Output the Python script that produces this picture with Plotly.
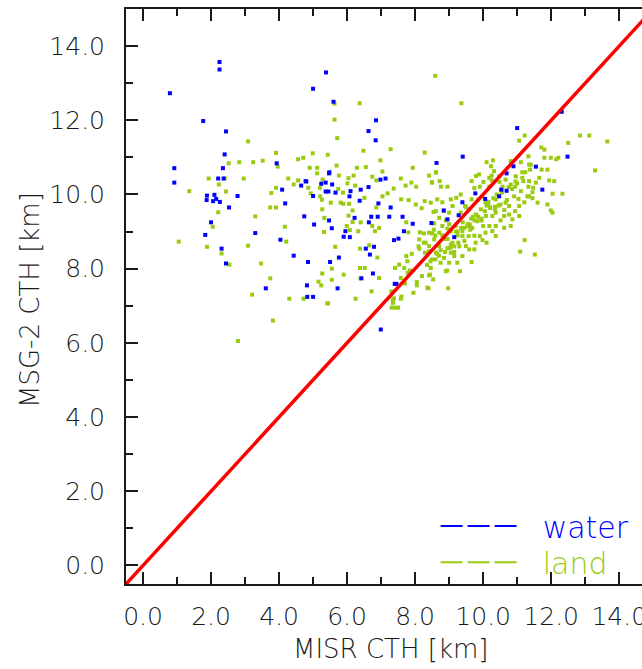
import plotly.graph_objects as go

# ---------------- data (km) ----------------
water_x = [2.25, 2.25, 0.79, 5.38, 5.00, 5.60, 6.85, 6.63, 6.84, 1.77, 2.44, 2.40, 0.92, 2.35, 0.92,
           2.21, 2.37, 3.93, 4.09, 1.88, 2.10, 1.87, 2.06, 2.15, 2.26, 2.78, 2.53, 4.18, 2.00, 1.83,
           3.30, 4.04, 2.31, 4.43, 2.44, 3.61, 5.24, 4.78, 5.37, 5.45, 5.56, 6.10, 6.40, 6.63, 6.37,
           6.07, 5.47, 4.74, 5.03, 5.47, 5.55, 5.95, 6.08, 6.55, 6.79, 6.67, 5.76, 5.50, 4.85, 6.76,
           6.42, 4.82, 5.72, 8.63, 5.48, 5.37, 4.80, 4.65, 5.66, 6.98, 7.13, 5.00, 7.28, 6.92, 5.90,
           6.22, 6.71, 6.90, 6.64, 7.24, 7.67, 7.51, 7.38, 7.63, 7.93, 8.48, 7.40, 7.45, 4.83, 5.00,
           6.99, 12.31, 11.00, 9.40, 12.48, 11.55, 10.69, 10.89, 11.74, 10.53, 10.69, 10.06, 10.47,
           9.77, 9.39, 8.84, 9.28, 8.95, 9.15]
water_y = [13.57, 13.37, 12.73, 13.29, 12.85, 12.50, 12.00, 11.71, 11.46, 11.98, 11.70, 11.08, 10.71,
           10.71, 10.32, 10.43, 10.43, 10.84, 10.13, 9.97, 9.99, 9.85, 9.82, 9.88, 9.80, 9.96, 9.65,
           9.76, 9.25, 8.91, 8.96, 8.78, 8.54, 8.35, 8.14, 7.47, 10.29, 10.36, 10.08, 10.08, 10.27,
           10.09, 10.13, 10.20, 9.83, 9.95, 10.57, 9.41, 9.19, 9.30, 9.09, 9.01, 8.85, 8.54, 8.59,
           8.38, 8.30, 8.18, 8.18, 7.87, 7.74, 7.55, 7.47, 10.85, 10.60, 10.32, 10.35, 10.24, 10.05,
           10.40, 10.43, 9.96, 9.65, 9.76, 8.86, 9.37, 9.40, 9.40, 9.25, 9.40, 9.01, 8.81, 8.77, 9.40,
           9.21, 9.23, 7.59, 7.59, 7.24, 7.24, 6.36, 12.23, 11.79, 11.02, 11.02, 10.75, 10.57, 10.76,
           10.13, 10.13, 10.10, 9.88, 9.95, 10.03, 9.79, 9.57, 9.44, 9.33, 8.85]

land_x = [3.09, 3.91, 2.52, 2.83, 3.24, 3.52, 3.96, 1.93, 2.40, 2.96, 4.27, 4.43, 2.23, 1.36, 2.44,
          3.91, 3.77, 3.74, 3.91, 2.21, 3.30, 2.05, 4.17, 1.05, 1.88, 3.09, 4.21, 2.31, 2.54, 3.47,
          3.74, 3.21, 4.30, 3.82,
          6.37, 5.63, 5.71, 6.48, 4.99, 5.43, 4.71, 4.56,
          5.63, 7.28, 8.28, 6.98, 4.90, 5.12, 5.69, 6.29, 6.55, 7.04, 7.93, 8.41, 8.62, 4.56, 5.12,
          5.28, 5.76, 6.04, 6.19, 6.74, 6.86, 7.58, 7.89, 8.50, 4.86, 4.93, 5.20, 5.21, 5.74, 5.88,
          6.01, 6.24, 5.89, 5.81, 6.06, 5.52, 5.26, 5.27, 6.16, 6.51, 7.04, 7.19, 6.86, 7.59, 7.37,
          7.72, 8.03, 7.81, 8.02, 8.28, 8.46, 8.19, 8.54, 5.33, 6.04, 6.40, 6.74, 6.94, 6.16, 5.99,
          6.33, 6.08, 6.82, 5.32, 5.65, 6.38, 6.65, 7.80, 7.74, 8.14, 8.26, 8.51, 8.12, 8.31, 8.12,
          8.41, 8.29, 8.59, 7.74, 7.77, 7.53, 7.41, 7.68, 7.78, 7.58, 6.89, 6.38, 6.52, 6.40, 6.94,
          5.90, 5.55, 5.55, 5.27, 5.16, 5.24, 6.72, 7.30, 8.05, 8.36, 8.44, 8.53, 6.25, 5.44, 4.72,
          7.34, 7.41, 7.50, 7.35,
          9.36, 11.22, 11.06, 12.50, 11.71, 11.80, 11.33, 11.80, 11.99, 12.21, 10.10, 10.29, 10.23,
          10.81, 11.11, 11.35, 11.38, 11.72, 11.89, 11.24, 10.96, 11.18, 11.35, 11.55, 11.47, 11.94,
          12.09, 9.88, 9.79, 10.25, 10.25, 9.66, 10.01, 10.48, 10.57, 10.94, 11.11, 11.33, 11.45,
          12.04, 12.33, 9.74, 9.90, 10.18, 8.49, 8.72, 8.76, 8.95, 8.61, 10.91, 11.04, 11.21, 11.35,
          11.60, 11.89, 11.99, 12.04, 10.66, 10.76, 10.62, 10.51, 10.35, 10.21, 10.27, 10.08, 9.93,
          9.78, 9.65, 9.83, 10.51, 10.86, 10.94, 9.54, 9.68, 9.39, 9.57, 9.74, 9.90, 9.98, 10.10,
          10.62, 9.19, 9.05, 9.39, 9.27, 9.49, 9.59, 9.03, 8.88, 9.05, 8.71, 8.56, 8.41, 8.85, 9.00,
          9.66, 9.32, 8.90, 8.94, 8.41, 8.97, 11.22, 11.09, 11.52, 8.65, 8.80, 9.05, 9.21, 9.34, 9.10,
          9.00, 8.61, 8.71, 8.56, 8.80, 8.95, 10.27, 10.37, 10.81, 11.06,
          12.85, 13.12, 13.65, 13.29, 8.39, 7.31, 7.38, 7.58, 5.42, 2.79, 8.59,
          9.47, 9.59, 9.34, 9.66, 9.86, 9.98, 10.07, 10.37, 8.41, 8.71, 8.61, 8.75, 8.50, 8.46, 9.15,
          9.39, 9.24, 9.78, 9.74, 10.18, 10.37, 10.07, 10.62, 10.76, 10.37, 11.06, 10.18, 10.32,
          10.47, 10.66, 10.81,
          # denser core of the land cloud around the 1:1 line
          9.95, 10.05, 9.55, 9.62, 10.15, 10.30, 9.45, 9.70, 9.20, 9.30, 8.85, 8.95, 9.10, 8.70,
          8.80, 8.60, 8.90, 9.00, 9.15, 9.25, 9.45, 9.60, 9.85, 10.00, 10.20, 10.45, 10.55, 10.70,
          10.85, 11.00, 11.15, 11.30, 11.45, 10.40, 10.10, 9.80, 9.50, 9.35, 9.15, 8.95, 8.75, 8.55,
          8.35, 8.20, 8.05, 7.95, 7.85, 7.70, 7.60, 7.90, 8.10, 8.25, 8.45, 8.65, 8.85, 9.05, 9.25,
          9.40, 9.60, 9.75, 9.95, 10.15, 10.35, 10.55, 10.75, 10.95, 11.15, 11.40, 11.65, 12.15]
land_y = [11.43, 11.12, 10.84, 10.87, 10.87, 10.91, 10.75, 10.43, 10.43, 10.43, 10.43, 10.27, 10.27,
          10.09, 10.08, 10.18, 10.04, 9.65, 9.65, 9.52, 9.41, 9.13, 9.13, 8.73, 8.59, 8.62, 8.73,
          8.41, 8.11, 8.14, 7.74, 7.30, 7.19, 6.60,
          12.46, 12.02, 11.52, 11.18, 11.11, 11.07, 10.99, 10.95,
          12.45, 11.22, 11.13, 10.92, 10.72, 10.72, 10.78, 10.72, 10.74, 10.62, 10.72, 10.51, 10.59,
          10.38, 10.57, 10.40, 10.51, 10.44, 10.51, 10.48, 10.38, 10.43, 10.32, 10.32, 10.18, 10.03,
          10.18, 9.95, 10.15, 10.05, 10.30, 10.24, 9.75, 9.78, 9.75, 9.78, 9.86, 9.60, 9.57, 9.91,
          9.95, 10.03, 9.65, 9.87, 10.16, 10.24, 10.21, 9.85, 9.73, 9.82, 9.78, 9.63, 9.53, 9.37,
          9.43, 9.25, 9.15, 9.10, 9.26, 9.15, 9.01, 9.04, 9.01, 8.99, 8.59, 8.54, 8.63, 8.98, 9.25,
          8.98, 8.95, 8.95, 8.79, 8.70, 8.54, 8.47, 8.43, 8.89, 8.34, 8.20, 8.11, 8.02, 8.02, 7.89,
          7.75, 8.30, 8.02, 8.02, 7.74, 7.75, 7.84, 8.00, 7.70, 7.87, 7.65, 7.55, 7.39, 7.39, 7.64,
          7.49, 7.84, 7.71, 7.19, 7.07, 7.19, 7.17, 6.95, 6.95, 7.08,
          12.46, 11.59, 11.45, 11.39, 11.27, 11.21, 11.03, 10.99, 10.99, 10.99, 10.87, 10.92, 10.76,
          10.90, 10.87, 10.81, 10.67, 10.67, 10.67, 10.60, 10.49, 10.36, 10.36, 10.32, 10.18, 10.38,
          10.36, 10.54, 10.50, 10.51, 10.38, 10.36, 10.34, 10.34, 10.21, 10.21, 10.09, 10.21, 10.06,
          10.02, 10.02, 10.17, 10.21, 10.21, 10.33, 10.36, 10.21, 10.21, 10.60, 9.95, 9.88, 9.79,
          9.95, 9.78, 9.73, 9.57, 9.51, 9.78, 9.69, 9.58, 9.73, 9.67, 9.64, 9.42, 9.42, 9.60, 9.46,
          9.35, 9.28, 9.30, 9.33, 9.55, 9.15, 9.10, 9.01, 8.88, 8.89, 8.88, 8.77, 8.70, 9.10, 9.15,
          9.01, 8.88, 8.70, 8.61, 8.52, 8.56, 8.45, 8.43, 8.61, 8.79, 8.61, 8.29, 8.16, 8.18, 7.93,
          7.93, 7.95, 7.82, 7.47, 8.77, 8.46, 8.38, 9.87, 9.79, 9.87, 9.91, 10.00, 9.69, 9.51, 9.55,
          9.37, 9.22, 9.15, 9.08, 9.01, 8.88, 9.15, 9.42,
          11.59, 11.59, 11.43, 10.65, 7.47, 6.95, 7.20, 7.19, 7.06, 6.05, 13.20,
          9.69, 9.60, 9.51, 9.87, 9.87, 9.95, 9.78, 9.87, 8.97, 8.97, 8.43, 8.16, 8.25, 8.02, 8.34,
          8.34, 8.16, 8.70, 8.52, 9.15, 9.15, 8.97, 9.42, 9.46, 9.51, 9.69, 10.45, 10.63, 10.49,
          10.40, 10.27,
          9.30, 9.55, 9.20, 9.05, 9.75, 9.90, 9.10, 9.40, 9.00, 8.60, 8.80, 8.55, 8.70, 8.35,
          8.90, 8.25, 9.30, 9.20, 8.60, 8.90, 8.75, 9.20, 9.40, 9.15, 9.65, 9.70, 10.05, 9.85,
          10.15, 10.30, 10.45, 9.95, 9.90, 10.00, 9.70, 9.45, 9.65, 9.10, 8.45, 8.80, 8.50, 9.05,
          8.10, 7.80, 7.55, 7.35, 7.95, 7.60, 7.25, 8.40, 8.60, 8.70, 8.20, 8.40, 9.55, 8.65, 9.00,
          9.25, 9.15, 9.30, 9.35, 9.80, 9.60, 10.10, 10.20, 10.35, 10.60, 10.80, 10.45, 10.95]

one_to_one = [-0.5, 15.0]

x_range = [-0.5, 14.67]
y_range = [-0.5, 15.0]

x_title = "MISR CTH [km]"
y_title = "MSG-2 CTH [km]"

BLUE = "#0000ff"
GREEN = "#99cc11"
RED = "#ff0000"
INK = "#1a1a1a"
FONT = "DejaVu Sans"
W = 200

fig = go.Figure()
fig.add_trace(go.Scatter(x=land_x, y=land_y, mode="markers", showlegend=False,
                         marker=dict(symbol="square", size=4, color=GREEN, line=dict(width=0))))
fig.add_trace(go.Scatter(x=water_x, y=water_y, mode="markers", showlegend=False,
                         marker=dict(symbol="square", size=4, color=BLUE, line=dict(width=0))))
fig.add_trace(go.Scatter(x=one_to_one, y=one_to_one, mode="lines", showlegend=False,
                         line=dict(color=RED, width=3.5)))
# legend entries (dashed lines), one legend box each
fig.add_trace(go.Scatter(x=[None], y=[None], mode="lines", legend="legend",
                         name="\u00a0\u00a0<span style='color:%s'>water</span>" % BLUE,
                         line=dict(color=BLUE, width=2, dash="22px,5px")))
fig.add_trace(go.Scatter(x=[None], y=[None], mode="lines", legend="legend2",
                         name="\u00a0\u00a0<span style='color:%s'>land</span>" % GREEN,
                         line=dict(color=GREEN, width=2, dash="22px,5px")))

axis_common = dict(
    showgrid=False, zeroline=False, showline=True, linecolor=INK, linewidth=2,
    ticks="inside", ticklen=12, tickwidth=2, tickcolor=INK, dtick=2, tick0=0,
    tickformat=".1f", tickfont=dict(family=FONT, size=25, color=INK, weight=W),
    ticklabeloverflow="allow", automargin=False,
    minor=dict(ticks="inside", ticklen=7, tickwidth=2, tickcolor=INK, dtick=1, tick0=0, showgrid=False),
)

leg_common = dict(x=0.6, xanchor="left", yanchor="top", bgcolor="rgba(0,0,0,0)",
                  font=dict(family=FONT, size=30, weight=W), itemwidth=78)

fig.update_layout(
    width=642, height=669,
    margin=dict(l=126, r=0, t=9, b=85, autoexpand=False),
    paper_bgcolor="white", plot_bgcolor="white",
    font=dict(family=FONT, color=INK, weight=W),
    xaxis=dict(range=x_range, mirror="ticks", ticklabelstandoff=9, **axis_common),
    yaxis=dict(range=y_range, mirror=False, ticklabelstandoff=14, **axis_common),
    legend=dict(y=0.146, **leg_common),
    legend2=dict(y=0.083, **leg_common),
    annotations=[
        dict(text=x_title, xref="paper", yref="paper", x=0.512, y=-0.113, xanchor="center",
             yanchor="middle", showarrow=False, font=dict(family=FONT, size=26, color=INK, weight=W)),
        dict(text=y_title, xref="paper", yref="paper", x=-0.186, y=0.494, xanchor="center",
             yanchor="middle", textangle=-90, showarrow=False,
             font=dict(family=FONT, size=26, color=INK, weight=W)),
    ],
)

fig.write_html("out.html")
